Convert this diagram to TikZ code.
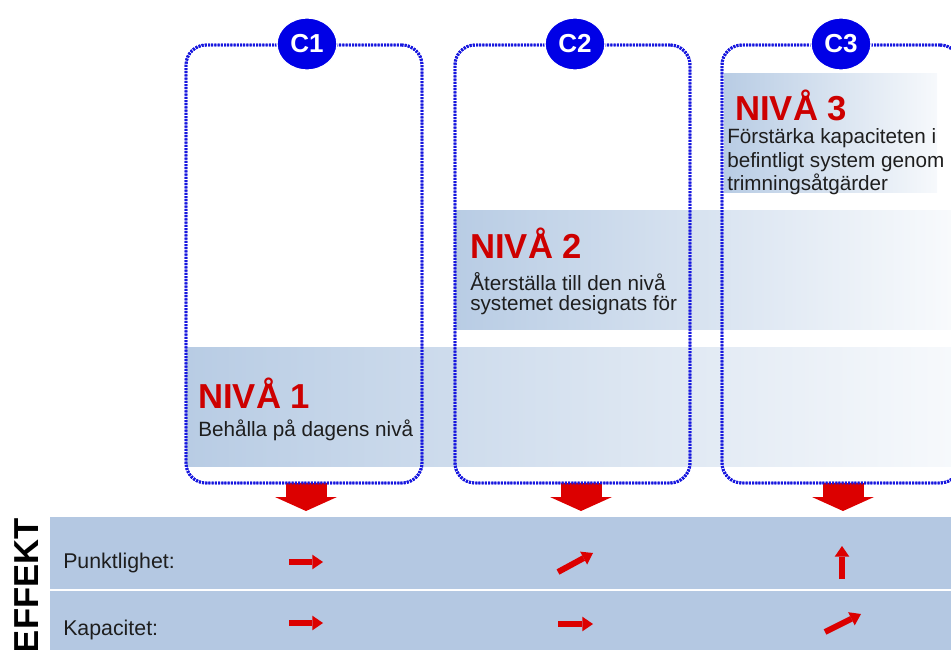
\documentclass[tikz,border=0pt]{standalone}
\usepackage{fontspec}
\setmainfont{Liberation Sans}
\usetikzlibrary{shapes.geometric,arrows.meta}

\definecolor{frameblue}{RGB}{22,22,222}
\definecolor{badgeblue}{RGB}{0,0,230}
\definecolor{bandblue}{RGB}{184,204,228}
\definecolor{tableblue}{RGB}{180,200,226}
\definecolor{arrowred}{RGB}{220,0,0}
\definecolor{nivared}{RGB}{205,0,0}
\definecolor{bodytext}{RGB}{30,30,30}

\begin{document}
\begin{tikzpicture}[x=0.75pt,y=-0.75pt,
  cbox/.style={draw=frameblue, line width=2.2pt, dash pattern=on 1.5pt off 0.9pt,
    rounded corners=15pt, inner sep=0pt, outer sep=0pt, minimum height=328.5pt},
  badge/.style={ellipse, fill=badgeblue, draw=white, line width=1pt,
    minimum width=45pt, minimum height=39pt, inner sep=0pt, text=white,
    font=\bfseries\fontsize{19.5}{20}\selectfont},
  bigarrow/.style={draw=arrowred, line width=30.75pt,
    -{Triangle[length=10.5pt, width=46.5pt, line width=0pt]}},
  effarrow/.style={draw=arrowred, line width=4.5pt,
    -{Triangle[length=8pt, width=11pt, line width=0pt]}},
  lbl/.style={inner sep=0pt, anchor=base west},
  heading/.style={lbl, text=nivared, font=\bfseries\fontsize{26}{28}\selectfont},
  body/.style={lbl, text=bodytext, font=\fontsize{15.5}{18}\selectfont},
  rowlabel/.style={lbl, text=bodytext, font=\fontsize{16}{18}\selectfont}]

\useasboundingbox (0,0) rectangle (951,650);

% level bands
\shade[left color=bandblue, right color=bandblue!12!white] (186,347) rectangle (951,466);
\shade[left color=bandblue, right color=bandblue!10!white] (455,210) rectangle (951,329);
\shade[left color=bandblue, right color=bandblue!12!white] (724,73) rectangle (937,192);

% effect table
\fill[tableblue] (50,517) rectangle (951,650);
\draw[white, line width=1.5pt] (50,590) -- (951,590);

% tips of the downward arrows
\coordinate (tip1) at (306,511);
\coordinate (tip2) at (581,511);
\coordinate (tip3) at (843,511);

% column frames
\node[cbox, minimum width=177pt] (box1) at (304,264) {};
\node[cbox, minimum width=176.25pt] (box2) at (572.5,264) {};
\node[cbox, minimum width=178.5pt] (box3) at (841,264) {};

% downward arrows into the table
\draw[bigarrow] (box1.south -| tip1) -- (tip1);
\draw[bigarrow] (box2.south -| tip2) -- (tip2);
\draw[bigarrow] (box3.south -| tip3) -- (tip3);

% redraw frames above the arrows
\node[cbox, minimum width=177pt] at (304,264) {};
\node[cbox, minimum width=176.25pt] at (572.5,264) {};
\node[cbox, minimum width=178.5pt] at (841,264) {};

% column badges
\node[badge] (c1) at (307,44) {C1};
\node[badge] (c2) at (575,44) {C2};
\node[badge] (c3) at (841,44) {C3};

% level texts
\node[heading] (n1) at (198,408) {NIVÅ 1};
\node[body] (n1a) at (198,436) {Behålla på dagens nivå};

\node[heading] (n2) at (470,258) {NIVÅ 2};
\node[body] (n2a) at (470,290) {Återställa till den nivå};
\node[body] (n2b) at (470,310) {systemet designats för};

\node[heading] (n3) at (735,120) {NIVÅ 3};
\node[body] (n3a) at (727,143) {Förstärka kapaciteten i};
\node[body] (n3b) at (727,167) {befintligt system genom};
\node[body] (n3c) at (727,190) {trimningsåtgärder};

% effect labels
\node[inner sep=0pt, anchor=base east, rotate=90,
  font=\bfseries\fontsize{26}{28}\selectfont] (effekt) at (38,518) {EFFEKT};
\node[rowlabel] (r1) at (63,568) {Punktlighet:};
\node[rowlabel] (r2) at (63,635) {Kapacitet:};

% effect indicators
\coordinate (p1s) at (289,562); \coordinate (p1e) at (323,562);
\coordinate (p2s) at (558,572); \coordinate (p2e) at (593,553);
\coordinate (p3s) at (842,579); \coordinate (p3e) at (842,546);
\coordinate (k1s) at (289,623); \coordinate (k1e) at (323,623);
\coordinate (k2s) at (558,624); \coordinate (k2e) at (593,624);
\coordinate (k3s) at (825,632); \coordinate (k3e) at (861,614);
\draw[effarrow] (p1s) -- (p1e);
\draw[effarrow] (p2s) -- (p2e);
\draw[effarrow] (p3s) -- (p3e);
\draw[effarrow] (k1s) -- (k1e);
\draw[effarrow] (k2s) -- (k2e);
\draw[effarrow] (k3s) -- (k3e);

\end{tikzpicture}
\end{document}
